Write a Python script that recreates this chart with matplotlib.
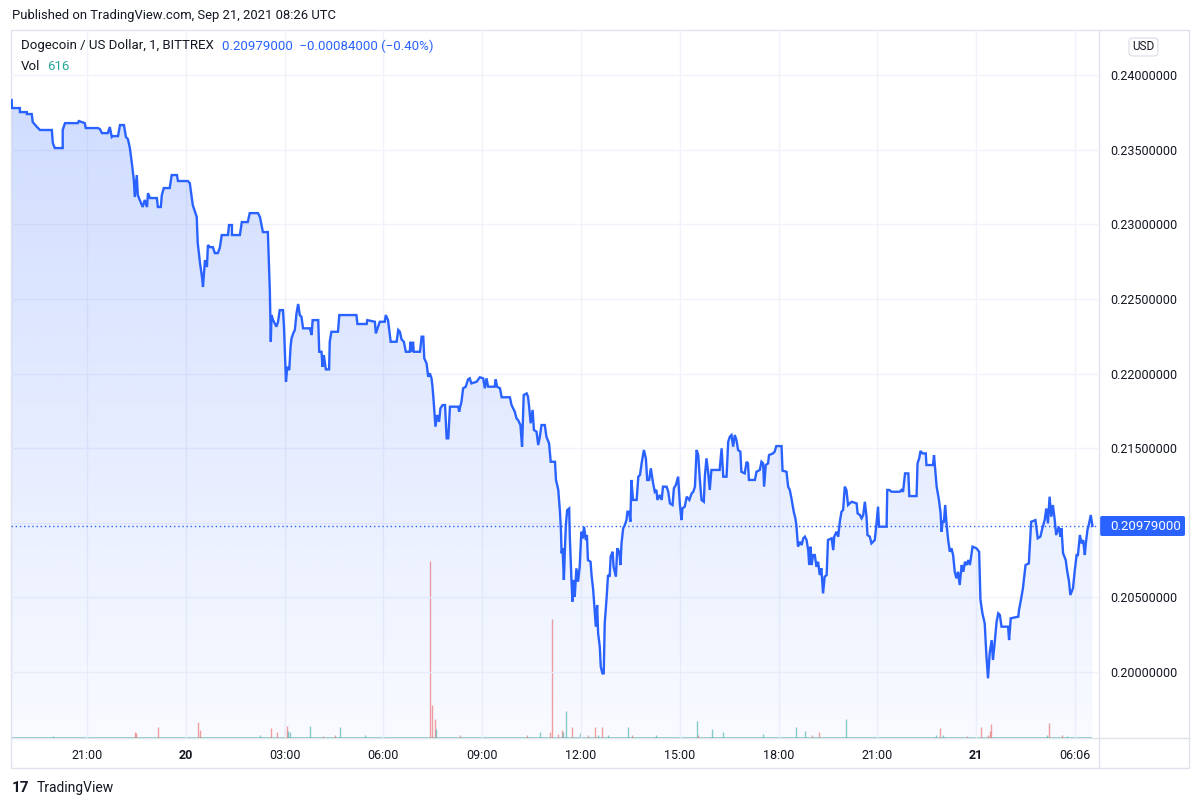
import numpy as np
import matplotlib.pyplot as plt
from matplotlib.colors import to_rgb
from matplotlib.patches import PathPatch, FancyBboxPatch, Rectangle
from matplotlib.lines import Line2D

plt.rcParams['font.family'] = ['Roboto', 'DejaVu Sans']

# chart time in hours from Sep 20 00:00
times = [
    -5.29, -5.28, -5.04, -5.04, -4.83, -4.83, -4.68, -4.65, -4.52, -4.43, -4.07, -4.04,
    -3.98, -3.74, -3.74, -3.67, -3.28, -3.25, -3.07, -3.04, -2.67, -2.61, -2.55, -2.37,
    -2.31, -2.25, -2.22, -2.06, -2.00, -1.88, -1.82, -1.76, -1.70, -1.64, -1.58, -1.55,
    -1.49, -1.46, -1.40, -1.31, -1.25, -1.18, -1.15, -1.09, -0.88, -0.85, -0.76, -0.73,
    -0.67, -0.49, -0.43, -0.27, -0.24, 0.06, 0.12, 0.21, 0.33, 0.36, 0.43, 0.49,
    0.52, 0.58, 0.64, 0.67, 0.73, 0.82, 0.88, 0.97, 1.03, 1.09, 1.28, 1.31,
    1.40, 1.40, 1.64, 1.70, 1.88, 1.94, 2.19, 2.25, 2.34, 2.49,
    2.55, 2.58, 2.60, 2.65, 2.75, 2.80, 2.85, 2.95, 2.98, 3.04, 3.08, 3.14,
    3.18, 3.21, 3.26, 3.31, 3.36, 3.41, 3.46, 3.51, 3.56, 3.77, 3.82, 3.85,
    4.02, 4.05, 4.12, 4.15, 4.19, 4.25, 4.35, 4.37, 4.42, 4.62, 4.66, 5.18,
    5.21, 5.49, 5.51, 5.74, 5.77, 5.84, 5.89, 6.04, 6.07, 6.14, 6.22, 6.40,
    6.45, 6.50, 6.55, 6.62, 6.68, 6.80, 6.82, 6.85, 6.90, 6.92, 7.11, 7.16,
    7.21, 7.24, 7.31, 7.36, 7.41, 7.46, 7.49, 7.53, 7.58, 7.63, 7.69, 7.73,
    7.80, 7.87, 7.92, 7.97, 8.02, 8.27, 8.30, 8.32, 8.37, 8.42, 8.50, 8.57,
    8.62, 8.67, 8.83, 8.88, 8.93, 9.03, 9.08, 9.13, 9.18, 9.38, 9.41, 9.45,
    9.54, 9.59, 9.84, 9.89, 9.99, 10.04, 10.09, 10.16, 10.21, 10.26, 10.35, 10.39,
    10.42, 10.47, 10.53, 10.57, 10.65, 10.70, 10.75, 10.80, 10.90, 10.95, 11.03, 11.08,
    11.21, 11.24, 11.31,
    11.36, 11.39, 11.41, 11.44, 11.48, 11.51, 11.54, 11.58, 11.64, 11.66, 11.71, 11.74,
    11.78, 11.81, 11.86, 11.91, 11.96, 12.01, 12.06, 12.09, 12.15, 12.18, 12.21, 12.29,
    12.32, 12.37, 12.42, 12.45, 12.49, 12.52, 12.57, 12.60, 12.65, 12.69, 12.72, 12.78,
    12.82, 12.87, 12.90, 12.96, 12.99, 13.06, 13.10, 13.16, 13.20, 13.23, 13.28, 13.33,
    13.38, 13.41, 13.46, 13.50, 13.53, 13.58, 13.69, 13.74, 13.79, 13.84, 13.91, 13.97,
    14.01, 14.07, 14.12, 14.19, 14.24, 14.29, 14.32, 14.39, 14.45, 14.49, 14.60, 14.65,
    14.70, 14.78, 14.82, 14.88, 14.95, 15.00, 15.05, 15.08, 15.15, 15.21, 15.29, 15.36,
    15.41, 15.46, 15.51, 15.56, 15.61, 15.66, 15.73, 15.76, 15.81, 15.86, 15.91, 15.96,
    16.21, 16.27, 16.32, 16.42, 16.47, 16.52, 16.57, 16.62, 16.67, 16.72, 16.77, 16.84,
    16.87, 16.97, 17.03, 17.07, 17.10, 17.28, 17.33, 17.43, 17.48, 17.53, 17.56, 17.61,
    17.68, 17.71, 17.83, 17.88, 17.93, 18.09, 18.12, 18.24, 18.29, 18.34, 18.39, 18.46,
    18.51, 18.54,
    18.59, 18.65, 18.70, 18.75, 18.80, 18.85, 18.90, 18.93, 18.97, 19.00, 19.05, 19.10,
    19.15, 19.20, 19.25, 19.30, 19.35, 19.40, 19.46, 19.50, 19.61, 19.66, 19.69, 19.76,
    19.81, 19.86, 19.91, 19.96, 20.01, 20.06, 20.11, 20.16, 20.22, 20.37, 20.40, 20.47,
    20.52, 20.57, 20.62, 20.67, 20.70, 20.77, 20.82, 20.87, 20.92, 20.97, 21.02, 21.05,
    21.28, 21.30, 21.36, 21.43, 21.68, 21.73, 21.78, 21.84, 21.94, 21.97, 22.19, 22.22,
    22.27, 22.31, 22.37, 22.47, 22.49, 22.69, 22.72, 22.75, 22.80, 22.87, 22.92, 22.95,
    22.98, 23.02, 23.06, 23.10, 23.15, 23.20, 23.25, 23.30, 23.35, 23.40, 23.45, 23.50,
    23.56, 23.61, 23.66, 23.71, 23.76, 23.81, 23.89, 24.01, 24.09, 24.13, 24.19, 24.26,
    24.31, 24.36, 24.41, 24.47, 24.51, 24.57, 24.62, 24.67, 24.72, 24.77, 24.97, 25.00,
    25.05, 25.28, 25.30, 25.35, 25.42, 25.50, 25.60, 25.67, 25.80, 25.87, 25.95, 26.01,
    26.08, 26.13, 26.18, 26.23, 26.28, 26.33, 26.38, 26.43, 26.51, 26.56, 26.59, 26.64,
    26.72, 26.76, 26.82, 26.86, 26.94, 26.99, 27.05, 27.09, 27.15, 27.20, 27.25, 27.30,
    27.33, 27.38, 27.43, 27.48, 27.53,
]
prices = [
    0.23833, 0.23779, 0.23779, 0.23752, 0.23752, 0.23739, 0.23739, 0.23685, 0.23652, 0.23632, 0.23632, 0.23545,
    0.23511, 0.23511, 0.23632, 0.23678, 0.23678, 0.23692, 0.23678, 0.23645, 0.23645, 0.23638, 0.23611, 0.23611,
    0.23652, 0.23585, 0.23591, 0.23591, 0.23665, 0.23665, 0.23585, 0.23571, 0.23511, 0.23410, 0.23296, 0.23183,
    0.23330, 0.23196, 0.23163, 0.23116, 0.23163, 0.23116, 0.23209, 0.23176, 0.23176, 0.23116, 0.23116, 0.23196,
    0.23243, 0.23243, 0.23330, 0.23330, 0.23290, 0.23290, 0.23276, 0.23129, 0.23049, 0.22877, 0.22740, 0.22647,
    0.22580, 0.22760, 0.22714, 0.22861, 0.22847, 0.22847, 0.22807, 0.22807, 0.22841, 0.22928, 0.22928, 0.22995,
    0.22995, 0.22928, 0.22928, 0.23015, 0.23015, 0.23075, 0.23075, 0.23049, 0.22948, 0.22948,
    0.22559, 0.22213, 0.22392, 0.22358, 0.22314, 0.22347, 0.22425, 0.22425, 0.22314, 0.21945, 0.22045, 0.22023,
    0.22180, 0.22236, 0.22269, 0.22292, 0.22403, 0.22466, 0.22392, 0.22381, 0.22303, 0.22303, 0.22258, 0.22358,
    0.22358, 0.22146, 0.22146, 0.22045, 0.22124, 0.22028, 0.22028, 0.22213, 0.22280, 0.22280, 0.22392, 0.22392,
    0.22332, 0.22332, 0.22358, 0.22347, 0.22269, 0.22314, 0.22347, 0.22347, 0.22392, 0.22358, 0.22213, 0.22213,
    0.22292, 0.22280, 0.22229, 0.22213, 0.22146, 0.22146, 0.22213, 0.22146, 0.22213, 0.22146, 0.22146, 0.22247,
    0.22247, 0.22102, 0.22068, 0.21979, 0.22001, 0.21968, 0.21912, 0.21800, 0.21644, 0.21722, 0.21677, 0.21767,
    0.21789, 0.21789, 0.21566, 0.21566, 0.21778, 0.21778, 0.21744, 0.21767, 0.21811, 0.21901, 0.21912, 0.21961,
    0.21968, 0.21934, 0.21945, 0.21961, 0.21975, 0.21968, 0.21901, 0.21968, 0.21912, 0.21912, 0.21961, 0.21912,
    0.21901, 0.21841, 0.21841, 0.21789, 0.21744, 0.21700, 0.21688, 0.21655, 0.21510, 0.21856, 0.21867, 0.21845,
    0.21789, 0.21667, 0.21756, 0.21622, 0.21610, 0.21521, 0.21577, 0.21655, 0.21655, 0.21577, 0.21532, 0.21409,
    0.21409, 0.21287, 0.21220,
    0.21074, 0.20952, 0.20796, 0.20829, 0.20617, 0.20817, 0.20985, 0.21085, 0.21096, 0.20907, 0.20617, 0.20472,
    0.20617, 0.20505, 0.20695, 0.20605, 0.20705, 0.20940, 0.20896, 0.20974, 0.20884, 0.20918, 0.20750, 0.20739,
    0.20650, 0.20550, 0.20393, 0.20304, 0.20449, 0.20259, 0.20170, 0.20036, 0.19991, 0.19991, 0.20326, 0.20505,
    0.20650, 0.20639, 0.20773, 0.20806, 0.20705, 0.20639, 0.20829, 0.20806, 0.20717, 0.20862, 0.20963, 0.20985,
    0.21018, 0.21074, 0.21074, 0.21007, 0.21287, 0.21153, 0.21153, 0.21309, 0.21320, 0.21398, 0.21488, 0.21432,
    0.21287, 0.21287, 0.21365, 0.21265, 0.21208, 0.21220, 0.21153, 0.21186, 0.21153, 0.21242, 0.21242, 0.21208,
    0.21130, 0.21119, 0.21231, 0.21253, 0.21309, 0.21130, 0.21018, 0.21096, 0.21108, 0.21175, 0.21153, 0.21197,
    0.21208, 0.21242, 0.21488, 0.21454, 0.21287, 0.21153, 0.21141, 0.21309, 0.21432, 0.21342, 0.21220, 0.21354,
    0.21354, 0.21499, 0.21309, 0.21309, 0.21543, 0.21577, 0.21588, 0.21510, 0.21588, 0.21555, 0.21488, 0.21476,
    0.21342, 0.21331, 0.21409, 0.21398, 0.21287, 0.21287, 0.21342, 0.21354, 0.21409, 0.21398, 0.21242, 0.21387,
    0.21398, 0.21454, 0.21465, 0.21476, 0.21514, 0.21514, 0.21349, 0.21342, 0.21242, 0.21220, 0.21165, 0.21074,
    0.21030, 0.20985,
    0.20840, 0.20873, 0.20851, 0.20896, 0.20907, 0.20884, 0.20817, 0.20717, 0.20840, 0.20717, 0.20784, 0.20784,
    0.20705, 0.20739, 0.20650, 0.20695, 0.20527, 0.20639, 0.20650, 0.20885, 0.20896, 0.20817, 0.20907, 0.20940,
    0.20907, 0.21007, 0.21074, 0.21086, 0.21242, 0.21220, 0.21119, 0.21130, 0.21141, 0.21130, 0.21063, 0.21052,
    0.21030, 0.21052, 0.21141, 0.21041, 0.20918, 0.20907, 0.20862, 0.20873, 0.20884, 0.20985, 0.21108, 0.20974,
    0.20974, 0.21220, 0.21220, 0.21208, 0.21208, 0.21220, 0.21208, 0.21331, 0.21331, 0.21179, 0.21179, 0.21398,
    0.21432, 0.21481, 0.21465, 0.21465, 0.21387, 0.21387, 0.21454, 0.21376, 0.21242, 0.21153, 0.21063, 0.20940,
    0.21007, 0.21007, 0.21119, 0.20996, 0.20884, 0.20806, 0.20829, 0.20784, 0.20672, 0.20628, 0.20672, 0.20583,
    0.20717, 0.20672, 0.20739, 0.20717, 0.20750, 0.20717, 0.20840, 0.20829, 0.20806, 0.20485, 0.20393, 0.20326,
    0.20114, 0.19958, 0.20125, 0.20214, 0.20081, 0.20214, 0.20337, 0.20393, 0.20382, 0.20304, 0.20304, 0.20214,
    0.20360, 0.20371, 0.20415, 0.20472, 0.20561, 0.20717, 0.20728, 0.21007, 0.21018, 0.20896, 0.20907, 0.20963,
    0.21018, 0.21096, 0.20996, 0.21175, 0.21041, 0.21119, 0.21030, 0.20918, 0.20974, 0.20907, 0.20963, 0.20796,
    0.20750, 0.20683, 0.20605, 0.20516, 0.20561, 0.20672, 0.20784, 0.20784, 0.20918, 0.20862, 0.20884, 0.20784,
    0.20862, 0.20952, 0.20996, 0.21052, 0.20979,
]

# visible volume spikes (DOGE), True = up bar
vol_times = [
    -4.04, -1.55, -1.50, -0.85, 0.36, 0.43, 2.25, 2.58, 2.76, 3.01, 3.07, 3.10,
    3.16, 3.77, 4.16, 4.52, 4.68, 5.44, 7.41, 7.47, 7.56, 7.59, 8.32, 10.36,
    10.75, 11.05, 11.11, 11.30, 11.42, 11.45, 11.54, 11.72, 11.96, 12.21, 12.42, 12.51,
    12.63, 12.82, 13.42, 13.54, 14.27, 15.52, 15.56, 15.97, 16.31, 17.52, 18.52, 18.80,
    19.01, 19.22, 20.04, 22.78, 22.90, 22.99, 23.72, 24.14, 24.35, 24.42, 24.45, 26.15,
    26.21, 26.60, 26.75, 27.53,
]
vol_values = [
    5200, 13000, 10700, 24300, 35700, 18200, 7500, 22700, 13000, 20500, 28000, 15200,
    13000, 28000, 5200, 7500, 24300, 7500, 400000, 75000, 43200, 20500, 6100, 6100,
    13600, 13600, 268000, 9100, 18900, 13600, 60700, 24300, 11400, 6100, 24300, 6100,
    24300, 6100, 24300, 6100, 7500, 38000, 6100, 21100, 13600, 9100, 24300, 16600,
    6100, 13600, 43900, 6100, 22700, 7500, 3800, 24300, 7500, 16600, 31800, 7500,
    34100, 7500, 4500, 616,
]
vol_up = [
    True, False, False, False, False, False, True, False, False, False, False, True,
    True, True, False, False, True, True, False, False, False, True, False, False,
    True, False, False, False, False, True, True, False, True, False, False, True,
    False, True, True, False, True, True, False, True, True, True, True, True,
    False, False, True, True, False, True, False, False, False, False, False, True,
    False, False, True, True,
]
vol_floor = 3000

tick_hours = [-3, 0, 3, 6, 9, 12, 15, 18, 21, 24, 27]
tick_labels = ["21:00", "20", "03:00", "06:00", "09:00", "12:00", "15:00",
               "18:00", "21:00", "21", "06:06"]
day_labels = ["20", "21"]
price_ticks = [0.200, 0.205, 0.210, 0.215, 0.220, 0.225, 0.230, 0.235, 0.240]
last_price = 0.20979

BLUE = "#2962FF"
TEXT = "#131722"
GRID = "#f0f3fa"
BORDER = "#e0e3eb"

W, H = 1200, 807
fig = plt.figure(figsize=(W / 100, H / 100), dpi=100)
fig.patch.set_facecolor("white")


def fx(px):
    return px / W


def fy(py):
    return 1 - py / H


rect = [fx(11), fy(738), fx(1098) - fx(11), fy(30) - fy(738)]
ax_vol = fig.add_axes(rect)
ax = fig.add_axes(rect, sharex=ax_vol)
ax.set_zorder(2)
ax.patch.set_alpha(0)

xlim = (-5.31, 27.70)
ylim = (0.19558, 0.24302)

# volume
cols = ["#26a69a" if u else "#ef5350" for u in vol_up]
ax_vol.fill_between([times[0], times[-1]], 0, vol_floor, color="#26a69a", alpha=0.5, lw=0)
ax_vol.vlines(vol_times, 0, vol_values, colors=cols, lw=1.0, alpha=0.55)
ax_vol.set_ylim(0, 1.6e6)
ax_vol.axis("off")

# grid
for h in tick_hours:
    ax.axvline(h, color=GRID, lw=1, zorder=0)
for p in price_ticks:
    ax.axhline(p, color=GRID, lw=1, zorder=0)

# area fill with vertical gradient
poly = ax.fill_between(times, prices, ylim[0], color="none", lw=0)
path = poly.get_paths()[0]
clip = PathPatch(path, transform=ax.transData, facecolor="none", edgecolor="none")
ax.add_patch(clip)
grad = np.zeros((256, 1, 4))
grad[..., :3] = to_rgb(BLUE)
grad[..., 3] = np.linspace(0.22, 0.03, 256)[:, None]
im = ax.imshow(grad, extent=[times[0], times[-1], ylim[0], max(prices)],
               aspect="auto", origin="upper", zorder=1, interpolation="bilinear")
im.set_clip_path(clip)

ax.plot(times, prices, color=BLUE, lw=1.7, zorder=3, solid_joinstyle="miter")
ax.axhline(last_price, color=BLUE, lw=1, ls=(0, (1, 2)), zorder=2)

ax.set_xlim(*xlim)
ax.set_ylim(*ylim)
for s in ax.spines.values():
    s.set_visible(False)

ax.set_xticks(tick_hours)
ax.set_xticklabels(tick_labels)
ax.tick_params(axis="x", length=0, pad=8, labelsize=9, labelcolor=TEXT)
for lab in ax.get_xticklabels():
    if lab.get_text() in day_labels:
        lab.set_fontweight("bold")

ax.yaxis.tick_right()
ax.set_yticks(price_ticks)
ax.set_yticklabels(["" if abs(p - 0.21) < 1e-9 else f"{p:.8f}" for p in price_ticks])
ax.tick_params(axis="y", length=0, pad=9, labelsize=9, labelcolor=TEXT)

# frame lines
fig.add_artist(Rectangle((fx(11), fy(768)), fx(1189) - fx(11), fy(30) - fy(768),
                         transform=fig.transFigure, fill=False, ec=BORDER, lw=1))
fig.add_artist(Line2D([fx(1099), fx(1099)], [fy(768), fy(30)], color=BORDER, lw=1))
fig.add_artist(Line2D([fx(11), fx(1189)], [fy(738), fy(738)], color=BORDER, lw=1))

# last price label
fig.add_artist(FancyBboxPatch((fx(1100), fy(536)), fx(1185) - fx(1100), fy(516) - fy(536),
                              boxstyle="round,pad=0,rounding_size=0.002",
                              transform=fig.transFigure, fc=BLUE, ec="none"))
fig.text(fx(1110), fy(526), f"{last_price:.8f}", color="white", fontsize=9.5,
         va="center", ha="left")

# USD badge
fig.add_artist(FancyBboxPatch((fx(1129), fy(56)), fx(1158) - fx(1129), fy(38) - fy(56),
                              boxstyle="round,pad=0,rounding_size=0.004",
                              transform=fig.transFigure, fc="white", ec=BORDER, lw=1))
fig.text(fx(1143.5), fy(47), "USD", color=TEXT, fontsize=8.5, ha="center", va="center")

# header texts
fig.text(fx(12), fy(16), "Published on TradingView.com, Sep 21, 2021 08:26 UTC",
         color=TEXT, fontsize=9.4, va="center")
t1 = fig.text(fx(21), fy(46), "Dogecoin / US Dollar, 1, BITTREX", color=TEXT,
              fontsize=9.5, va="center")
fig.canvas.draw()
ax.annotate("0.20979000  \u22120.00084000 (\u22120.40%)", xy=(1, 0.5), xycoords=t1,
            xytext=(8, 0), textcoords="offset pixels", color=BLUE, fontsize=9.5,
            va="center", ha="left", annotation_clip=False)
t2 = fig.text(fx(21), fy(66), "Vol", color=TEXT, fontsize=9.5, va="center")
ax.annotate("616", xy=(1, 0.5), xycoords=t2, xytext=(7, 0), textcoords="offset pixels",
            color="#26a69a", fontsize=9.5, va="center", ha="left", annotation_clip=False)

# footer logo
fig.text(fx(12), fy(788), "17", color=TEXT, fontsize=11, fontweight="bold", va="center")
fig.text(fx(37), fy(788), "TradingView", color=TEXT, fontsize=10, va="center")

fig.savefig("out.png", dpi=100, facecolor="white")
